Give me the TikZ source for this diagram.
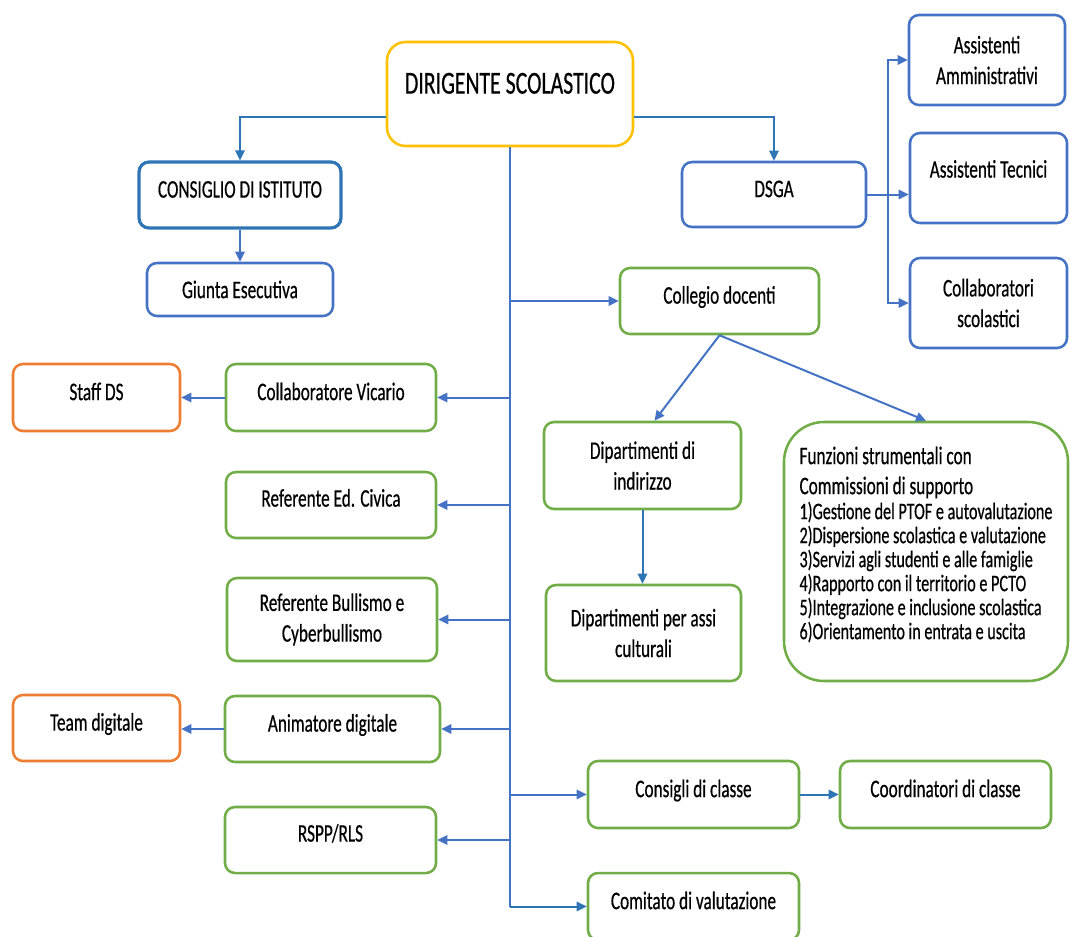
\documentclass[tikz,border=0pt]{standalone}
\usepackage{fontspec}
\setmainfont{Carlito}[FakeStretch=0.68, FakeBold=0.5]
\usetikzlibrary{arrows.meta}

\definecolor{dsyellow}{HTML}{FFC000}
\definecolor{dsblue}{HTML}{2E75B6}
\definecolor{boxblue}{HTML}{4472C4}
\definecolor{boxgreen}{HTML}{70AD47}
\definecolor{boxorange}{HTML}{ED7D31}

\begin{document}
\begin{tikzpicture}[x=0.75pt,y=-0.75pt,
    box/.style={draw, rounded corners=7.5pt, line width=1.9pt, inner sep=0pt,
        align=center, font=\fontsize{19}{23}\selectfont},
    wh/.style 2 args={minimum width=#1*0.75pt, minimum height=#2*0.75pt},
    raised/.style={text height=0.64em+6.5pt, text depth=#1},
    raised/.default=9pt,
    wire/.style={line width=1.5pt, draw=boxblue},
    arr/.style={wire, -{Triangle[length=7.5pt,width=7pt]}}]
    \path[use as bounding box, clip] (0,0) rectangle (1070,936);

    \node[box, draw=dsyellow, rounded corners=14pt, wh={246}{104}, raised=13.5pt,
        font=\fontsize{24}{28}\selectfont] (dir) at (510,94) {DIRIGENTE SCOLASTICO};
    \node[box, draw=dsblue, line width=2.4pt, wh={202}{66}, raised] (cons_ist) at (240,195) {CONSIGLIO DI ISTITUTO};
    \node[box, draw=boxblue, wh={186}{53}, raised=0pt] (giunta) at (240,289.5) {Giunta Esecutiva};
    \node[box, draw=boxblue, wh={184}{65}, raised] (dsga) at (774,194.5) {DSGA};
    \node[box, draw=boxblue, wh={156}{90}] (ass_amm) at (987,60) {Assistenti\\Amministrativi};
    \node[box, draw=boxblue, wh={157}{90}, raised=13.5pt] (ass_tec) at (988.5,178) {Assistenti Tecnici};
    \node[box, draw=boxblue, wh={157}{90}] (coll_scol) at (988.5,303) {Collaboratori\\scolastici};

    \node[box, draw=boxgreen, wh={199}{66}, raised] (coll_doc) at (719.5,301) {Collegio docenti};
    \node[box, draw=boxorange, wh={167}{67}, raised] (staff) at (96.5,397.5) {Staff DS};
    \node[box, draw=boxgreen, wh={210}{67}, raised] (vicario) at (331,397.5) {Collaboratore Vicario};
    \node[box, draw=boxgreen, wh={210}{66}, raised=10.5pt] (ed_civ) at (331,505) {Referente Ed. Civica};
    \node[box, draw=boxgreen, wh={210}{83}] (bull) at (332,619.5) {Referente Bullismo e\\Cyberbullismo};
    \node[box, draw=boxorange, wh={167}{66}, raised] (team) at (96.5,728) {Team digitale};
    \node[box, draw=boxgreen, wh={215}{66}, raised] (anim) at (332.5,729) {Animatore digitale};
    \node[box, draw=boxgreen, wh={211}{66}, raised=10.5pt] (rspp) at (330.5,840) {RSPP/RLS};

    \node[box, draw=boxgreen, wh={197}{87}] (dip_ind) at (642.5,465.5) {Dipartimenti di\\indirizzo};
    \node[box, draw=boxgreen, wh={195}{96}] (dip_assi) at (643.5,633) {Dipartimenti per assi\\culturali};
    \node[box, draw=boxgreen, rounded corners=30pt, wh={284}{259}, align=left,
        text depth=13pt, font=\fontsize{17.8}{18}\selectfont] (funz) at (926,551.5)
        {{\fontsize{19}{23}\selectfont Funzioni strumentali con}\\[4.5pt]
         {\fontsize{19}{23}\selectfont Commissioni di supporto}\\[0.75pt]
         1)Gestione del PTOF e autovalutazione\\
         2)Dispersione scolastica e valutazione\\
         3)Servizi agli studenti e alle famiglie\\
         4)Rapporto con il territorio e PCTO\\
         5)Integrazione e inclusione scolastica\\
         6)Orientamento in entrata e uscita};

    \node[box, draw=boxgreen, wh={211}{67}, raised] (cons_cl) at (693.5,794.5) {Consigli di classe};
    \node[box, draw=boxgreen, wh={211}{67}, raised] (coord_cl) at (945.5,794.5) {Coordinatori di classe};
    \node[box, draw=boxgreen, wh={211}{67}, raised] (comitato) at (693.5,906.5) {Comitato di valutazione};

    % top level
    \draw[arr, draw=dsblue] ([yshift=-17.25pt]dir.west) -| (cons_ist.north);
    \draw[arr, draw=dsblue] ([yshift=-17.25pt]dir.east) -| (dsga.north);
    \draw[arr] (cons_ist.south) -- (giunta.north);

    % DSGA staff
    \coordinate (bar) at (888,194.5);
    \draw[arr] (dsga.east) -- (dsga.east -| ass_tec.west);
    \draw[arr] (bar) |- (ass_amm.west);
    \draw[arr] (bar) |- (coll_scol.west);

    % main trunk
    \draw[wire] (dir.south) -- (dir.south |- comitato.west);
    \foreach \n in {vicario,ed_civ,bull,anim,rspp}
        \draw[arr] (dir.south |- \n.east) -- (\n.east);
    \foreach \n in {coll_doc,cons_cl}
        \draw[arr] (dir.south |- \n.west) -- (\n.west);
    \draw[arr, draw=dsblue] (dir.south |- comitato.west) -- (comitato.west);

    \draw[arr] (vicario.west) -- (staff.east);
    \draw[arr] (anim.west) -- (anim.west -| team.east);
    \draw[arr] (coll_doc.south) -- ([xshift=9pt]dip_ind.north);
    \draw[arr] (coll_doc.south) -- (funz.north);
    \draw[arr, draw=dsblue] (dip_ind.south) -- (dip_ind.south |- dip_assi.north);
    \draw[arr, draw=dsblue] (cons_cl.east) -- (coord_cl.west);
\end{tikzpicture}
\end{document}
